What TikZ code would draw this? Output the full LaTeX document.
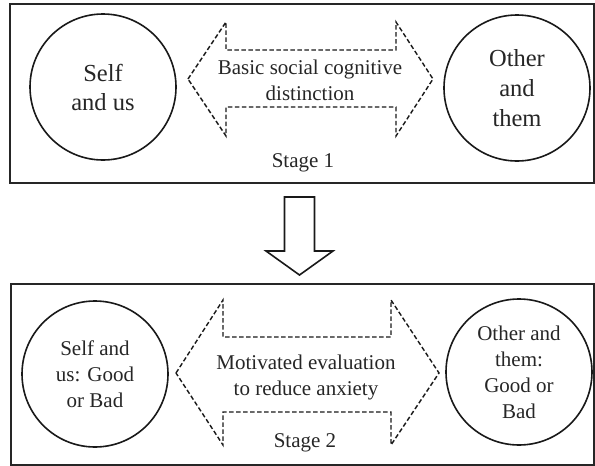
\documentclass[tikz,border=0pt]{standalone}
\usepackage{fontspec}
\setmainfont{Liberation Serif}
\usetikzlibrary{calc}

\tikzset{
    stagebox/.style={draw=black!85, line width=2pt},
    group/.style={draw=black!90, circle, line width=1.6pt, minimum size=146pt, inner sep=0pt, align=center, text=black!85},
    dasharrow/.style={draw=black!90, line width=1.4pt, dash pattern=on 4.5pt off 2.5pt},
    label/.style={align=center, text=black!85, font=\fontsize{21}{26}\selectfont},
}

\begin{document}
\begin{tikzpicture}[x=1pt, y=-1pt]
    \useasboundingbox (0,0) rectangle (595,466);

    % Stage 1
    \draw[stagebox] (10,4) rectangle (594,183);
    \node[group, font=\fontsize{24.5}{29}\selectfont] (self1) at (103,87) {Self\\and us};
    \node[group, font=\fontsize{24.5}{30}\selectfont] (other1) at (517,88) {Other\\and\\them};
    \coordinate (mid1) at (310,79);
    \draw[dasharrow] ($ (mid1) + (-122,0) $) -- ($ (mid1) + (-84,-57) $) -- ($ (mid1) + (-84,-29) $)
        -- ($ (mid1) + (86,-29) $) -- ($ (mid1) + (86,-57) $) -- ($ (mid1) + (123,0) $)
        -- ($ (mid1) + (86,57) $) -- ($ (mid1) + (86,28) $) -- ($ (mid1) + (-84,28) $)
        -- ($ (mid1) + (-84,57) $) -- cycle;
    \node[label] (distinct) at ($ (mid1) + (0,1) $) {Basic social cognitive\\distinction};
    \node[label, anchor=base] (stage1) at (303,167) {Stage 1};

    % Arrow down
    \draw[draw=black!90, line width=1.6pt] (284.5,197) -- (314.5,197) -- (314.5,251) -- (333,251)
        -- (299.5,275) -- (266,251) -- (284.5,251) -- cycle;

    % Stage 2
    \draw[stagebox] (11,284) rectangle (594,465);
    \node[group, font=\fontsize{21}{26}\selectfont] (self2) at (95,374) {Self and\\us: Good\\or Bad};
    \node[group, font=\fontsize{21}{26}\selectfont] (other2) at (519,372) {Other and\\them:\\Good or\\Bad};
    \coordinate (mid2) at (307,373);
    \draw[dasharrow] ($ (mid2) + (-131,0) $) -- ($ (mid2) + (-84,-73) $) -- ($ (mid2) + (-84,-36) $)
        -- ($ (mid2) + (84,-36) $) -- ($ (mid2) + (84,-73) $) -- ($ (mid2) + (132,0) $)
        -- ($ (mid2) + (84,72) $) -- ($ (mid2) + (84,39) $) -- ($ (mid2) + (-84,39) $)
        -- ($ (mid2) + (-84,72) $) -- cycle;
    \node[label] (evaluate) at ($ (mid2) + (-1,4) $) {Motivated evaluation\\to reduce anxiety};
    \node[label, anchor=base] (stage2) at (305,447) {Stage 2};

\end{tikzpicture}
\end{document}
